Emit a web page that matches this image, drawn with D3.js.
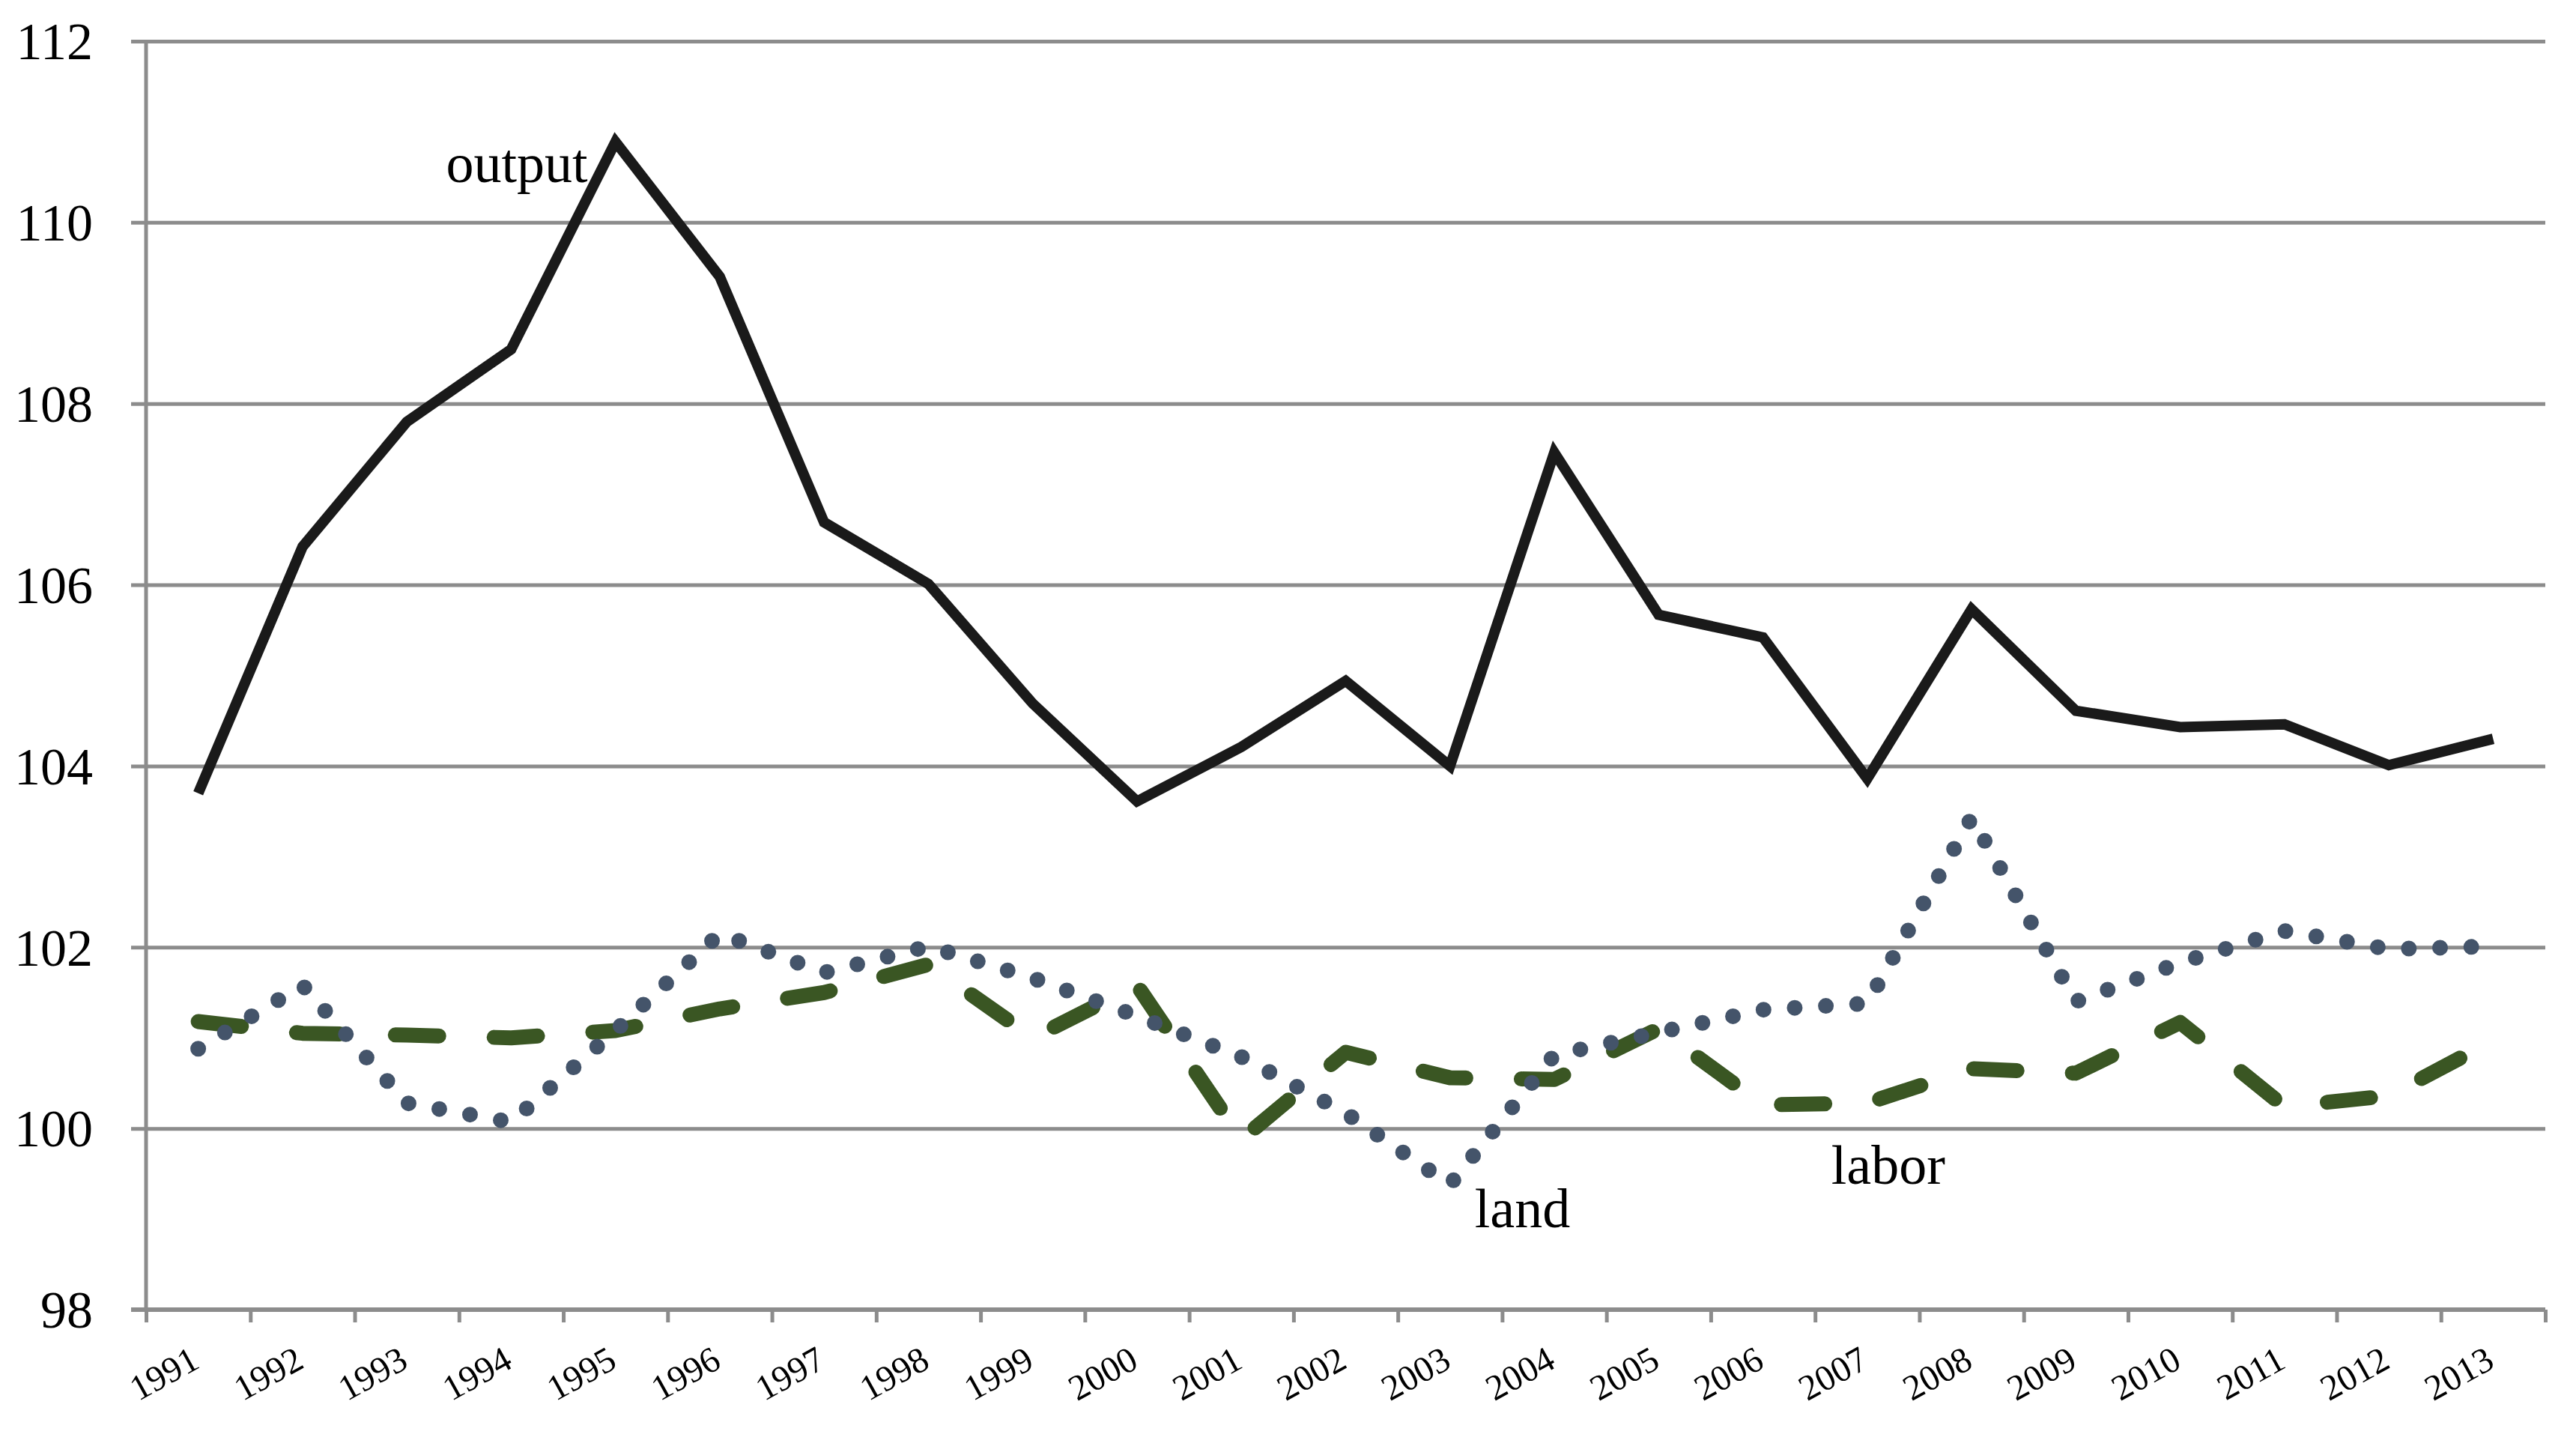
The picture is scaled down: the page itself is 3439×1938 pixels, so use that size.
<!DOCTYPE html>
<html lang="en">
<head>
  <meta charset="UTF-8">
  <title>Output, land and labor index</title>
  <script src="https://d3js.org/d3.v7.min.js"></script>
  <style>
    body { margin: 0; background: #fff; }
    svg text { font-family: "Liberation Serif", "Times New Roman", serif !important; fill: #000; }
    .grid line { stroke: #8c8c8c; stroke-width: 5; }
    .grid path { display: none; }
    .xaxis path { display: none; }
    .xticks line { stroke: #8c8c8c; stroke-width: 5; }
    .xticks path { display: none; }
  </style>
</head>
<body>
  <div id="chart"></div>

  <script>
    const years = d3.range(1991, 2014).map(String);
    const yTicks = [98, 100, 102, 104, 106, 108, 110, 112];

    const output = [103.70, 106.42, 107.80, 108.60, 110.89, 109.40, 106.69, 106.01, 104.69, 103.61,
                    104.21, 104.94, 104.00, 107.46, 105.67, 105.42, 103.86, 105.73, 104.61, 104.43,
                    104.46, 104.01, 104.30];
    const land   = [100.88, 101.58, 100.28, 100.07, 101.08, 102.15, 101.72, 102.01, 101.66, 101.24,
                    100.79, 100.17, 99.38, 100.81, 101.06, 101.31, 101.38, 103.43, 101.40, 101.83,
                    102.18, 101.98, 102.01];
    const labor  = [101.18, 101.05, 101.03, 101.00, 101.08, 101.32, 101.50, 101.81, 101.00, 101.58,
                    99.88, 100.84, 100.56, 100.54, 101.10, 100.26, 100.28, 100.66, 100.61, 101.17,
                    100.24, 100.36, 100.97];

    const W = 3439, H = 1938;
    const margin = { top: 55, right: 41, bottom: 190, left: 195 },
          width = W - margin.left - margin.right,
          height = H - margin.top - margin.bottom;

    const svg = d3.select("#chart")
                  .append("svg")
                  .attr("width", W)
                  .attr("height", H)
                  .append("g")
                  .attr("transform", `translate(${margin.left},${margin.top})`);

    const x = d3.scaleBand().domain(years).range([0, width]).padding(0);
    const y = d3.scaleLinear().domain([98, 112]).range([height, 0]);

    // horizontal gridlines, with a short stub left of the axis
    const grid = svg.append("g")
       .attr("class", "grid")
       .attr("transform", "translate(-20,0)")
       .call(d3.axisLeft(y).tickValues(yTicks).tickSize(-(width + 20)).tickPadding(51));
    grid.selectAll("text")
       .style("font-size", "70px")
       .attr("dy", "0.34em");

    // vertical axis line
    svg.append("line")
       .attr("x1", 0).attr("x2", 0)
       .attr("y1", 0).attr("y2", height)
       .attr("stroke", "#8c8c8c")
       .attr("stroke-width", 5);

    // tick marks on category boundaries
    const bounds = d3.scaleLinear().domain([0, years.length]).range([0, width]);
    svg.append("g")
       .attr("class", "xticks")
       .attr("transform", `translate(0,${height})`)
       .call(d3.axisBottom(bounds).tickValues(d3.range(0, years.length + 1)).tickSize(17).tickFormat(""));

    // bottom axis line
    svg.append("line")
       .attr("x1", -20).attr("x2", width)
       .attr("y1", height).attr("y2", height)
       .attr("stroke", "#8c8c8c")
       .attr("stroke-width", 6);

    // year labels, rotated
    const xa = svg.append("g")
       .attr("class", "xaxis")
       .attr("transform", `translate(0,${height})`)
       .call(d3.axisBottom(x).tickSize(0).tickFormat(d => d));
    xa.selectAll("text")
       .style("font-size", "48px")
       .attr("text-anchor", "end")
       .attr("dy", 0)
       .attr("y", 0)
       .attr("transform", "translate(4,76) rotate(-29)");

    const line = d3.line()
                   .x((d, i) => x(years[i]) + x.bandwidth() / 2)
                   .y(d => y(d));

    svg.append("path")
       .datum(labor)
       .attr("fill", "none")
       .attr("stroke", "#3a5623")
       .attr("stroke-width", 20)
       .attr("stroke-linecap", "round")
       .attr("stroke-linejoin", "round")
       .attr("stroke-dasharray", "58 74")
       .attr("d", line);

    svg.append("path")
       .datum(land)
       .attr("fill", "none")
       .attr("stroke", "#44546a")
       .attr("stroke-width", 21)
       .attr("stroke-linecap", "round")
       .attr("stroke-dasharray", "0 41.7")
       .attr("d", line);

    svg.append("path")
       .datum(output)
       .attr("fill", "none")
       .attr("stroke", "#1a1a1a")
       .attr("stroke-width", 14)
       .attr("stroke-linejoin", "miter")
       .attr("d", line);

    // series labels
    const labels = [
      { text: "output", i: 4,  v: 110.89, dx: -37, dy: 54,  anchor: "end" },
      { text: "land",   i: 12, v: 99.38,  dx: 33,  dy: 57,  anchor: "start" },
      { text: "labor",  i: 16, v: 100.28, dx: -48, dy: 108, anchor: "start" }
    ];
    svg.selectAll(".series-label")
       .data(labels)
       .enter()
       .append("text")
       .attr("class", "series-label")
       .attr("x", d => x(years[d.i]) + x.bandwidth() / 2 + d.dx)
       .attr("y", d => y(d.v) + d.dy)
       .attr("text-anchor", d => d.anchor)
       .style("font-size", "74px")
       .text(d => d.text);
  </script>
</body>
</html>
